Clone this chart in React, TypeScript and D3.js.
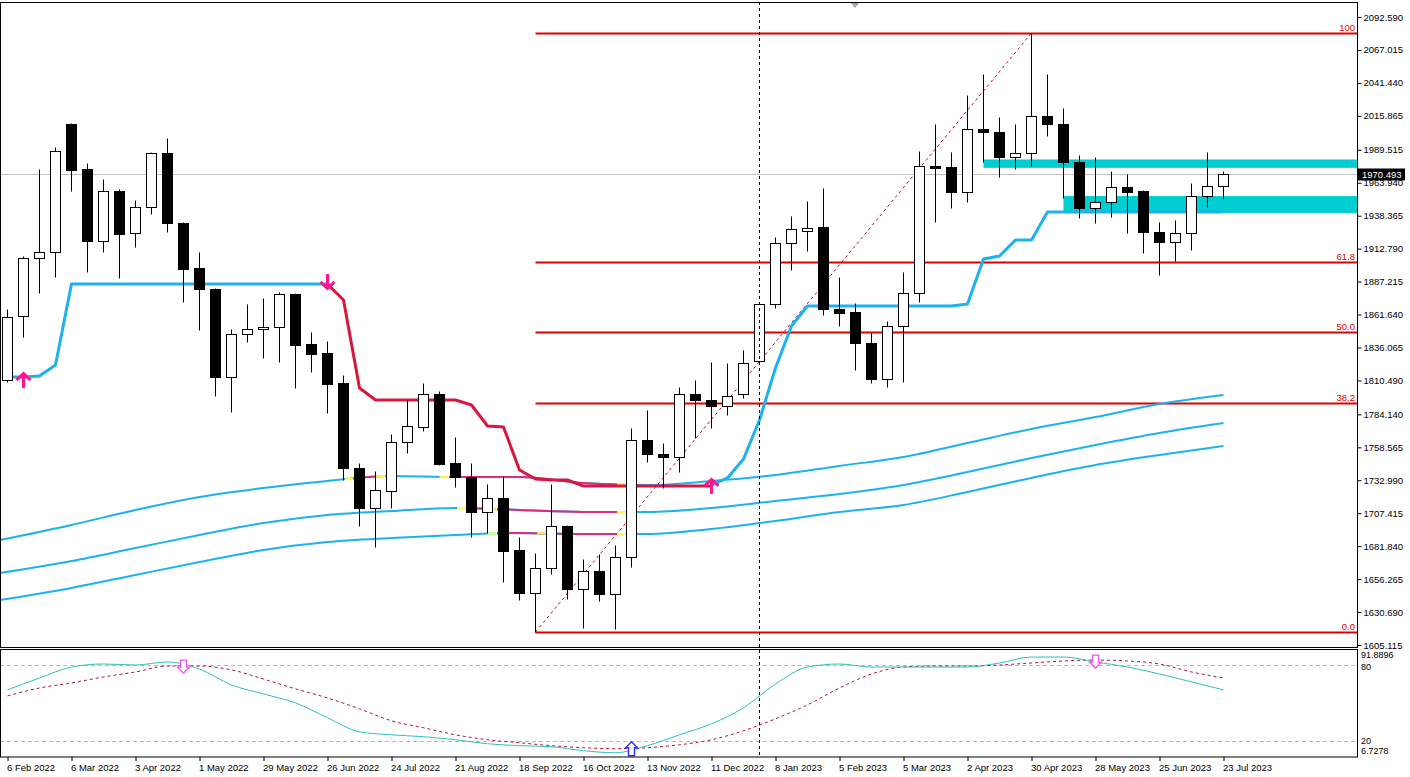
"use client";
import { useEffect, useRef } from "react";
import * as d3 from "d3";

// weekly gold bars, 6 Feb 2022 .. 23 Jul 2023 (index 0..76)
const opens = [
  1810.8, 1860.5, 1905.5, 1910.2, 2009.5, 1974.6, 1918.7, 1957.5, 1924.9, 1945.1,
  1987.0, 1932.7, 1897.8, 1881.5, 1813.2, 1846.5, 1850.4, 1852.0, 1877.6, 1838.8,
  1831.8, 1808.5, 1742.5, 1711.5, 1724.7, 1762.7, 1774.3, 1800.0, 1746.4, 1735.5,
  1708.4, 1719.2, 1678.9, 1645.5, 1664.9, 1697.5, 1648.6, 1662.6, 1644.7, 1673.4,
  1764.2, 1753.4, 1751.1, 1800.0, 1795.3, 1790.6, 1800.0, 1825.6, 1869.8, 1917.2,
  1926.5, 1929.6, 1865.9, 1863.6, 1839.5, 1811.6, 1852.7, 1878.4, 1976.9, 1976.2,
  1956.8, 2005.7, 2003.3, 1983.9, 1987.0, 2015.8, 2009.5, 1980.0, 1944.3, 1949.0,
  1960.6, 1957.5, 1925.7, 1917.9, 1924.9, 1953.7, 1961.4,
];
const highs = [
  1865.9, 1907.1, 1974.6, 1991.7, 2010.3, 1979.3, 1966.8, 1959.1, 1950.5, 1987.8,
  1998.7, 1933.5, 1910.2, 1882.2, 1850.4, 1869.8, 1874.5, 1879.1, 1878.0, 1848.1,
  1841.1, 1814.7, 1746.4, 1740.2, 1768.9, 1795.3, 1808.5, 1802.3, 1766.6, 1746.4,
  1730.1, 1736.3, 1689.0, 1676.5, 1730.1, 1698.3, 1671.9, 1675.8, 1682.7, 1773.6,
  1787.5, 1761.9, 1805.4, 1810.8, 1824.8, 1824.0, 1834.1, 1870.6, 1921.8, 1938.1,
  1949.8, 1959.9, 1890.8, 1870.6, 1847.3, 1856.6, 1894.7, 1988.6, 2009.5, 1987.8,
  2032.1, 2048.4, 2015.0, 2009.5, 2080.2, 2048.4, 2022.0, 1985.5, 1983.9, 1973.1,
  1970.7, 1958.3, 1933.5, 1935.0, 1963.7, 1987.8, 1973.1,
];
const lows = [
  1809.3, 1844.2, 1878.4, 1890.8, 1957.5, 1894.7, 1910.2, 1890.0, 1914.1, 1939.7,
  1925.7, 1871.4, 1849.6, 1798.4, 1786.0, 1840.3, 1827.9, 1824.8, 1804.6, 1817.0,
  1785.2, 1733.2, 1697.5, 1681.2, 1711.5, 1754.2, 1771.2, 1744.8, 1727.8, 1689.0,
  1692.1, 1654.0, 1640.0, 1615.2, 1660.2, 1640.8, 1618.3, 1639.3, 1617.5, 1665.7,
  1747.2, 1727.0, 1739.4, 1765.8, 1773.6, 1783.7, 1796.9, 1823.2, 1866.7, 1896.2,
  1911.0, 1861.3, 1852.7, 1818.6, 1808.5, 1805.4, 1809.3, 1871.4, 1933.5, 1944.3,
  1949.0, 1980.0, 1968.4, 1974.6, 1976.9, 2000.2, 1952.1, 1936.6, 1932.7, 1937.3,
  1924.9, 1909.4, 1892.3, 1903.2, 1911.7, 1945.1, 1951.3,
];
const closes = [
  1859.7, 1905.5, 1910.2, 1988.6, 1973.8, 1918.7, 1957.5, 1924.2, 1945.1, 1987.0,
  1932.7, 1897.0, 1881.5, 1813.2, 1846.5, 1850.4, 1852.0, 1877.6, 1838.0, 1831.0,
  1807.7, 1742.5, 1711.5, 1725.4, 1762.7, 1775.1, 1800.0, 1745.6, 1735.5, 1708.4,
  1719.2, 1678.1, 1645.5, 1664.9, 1697.5, 1648.6, 1662.6, 1644.7, 1673.4, 1764.2,
  1753.4, 1751.1, 1800.0, 1795.3, 1790.6, 1798.4, 1824.0, 1869.8, 1917.2, 1928.0,
  1928.8, 1865.9, 1862.8, 1839.5, 1811.6, 1852.7, 1878.4, 1976.9, 1975.4, 1956.8,
  2005.7, 2003.3, 1983.9, 1987.0, 2015.8, 2009.5, 1980.0, 1944.3, 1949.0, 1960.6,
  1956.8, 1925.7, 1917.9, 1924.9, 1953.7, 1961.4, 1970.493,
];

const dateLabels = [
  "6 Feb 2022", "6 Mar 2022", "3 Apr 2022", "1 May 2022", "29 May 2022",
  "26 Jun 2022", "24 Jul 2022", "21 Aug 2022", "18 Sep 2022", "16 Oct 2022",
  "13 Nov 2022", "11 Dec 2022", "8 Jan 2023", "5 Feb 2023", "5 Mar 2023",
  "2 Apr 2023", "30 Apr 2023", "28 May 2023", "25 Jun 2023", "23 Jul 2023",
];
const priceTicks = [
  2092.59, 2067.015, 2041.44, 2015.865, 1989.515, 1963.94, 1938.365, 1912.79,
  1887.215, 1861.64, 1836.065, 1810.49, 1784.14, 1758.565, 1732.99, 1707.415,
  1681.84, 1656.265, 1630.69, 1605.115,
];
const lastPrice = 1970.493;

// supertrend: up side (blue) and down side (crimson), null where inactive
const trendUp = [
  1813.2, 1813.2, 1813.9, 1822.5, 1885.3, 1885.3, 1885.3, 1885.3, 1885.3, 1885.3,
  1885.3, 1885.3, 1885.3, 1885.3, 1885.3, 1885.3, 1885.3, 1885.3, 1885.3, 1885.3,
  1885.3, null, null, null, null, null, null, null, null, null,
  null, null, null, null, null, null, null, null, null, null,
  null, null, null, null, 1729.3, 1734.8, 1749.5, 1779.8, 1820.1, 1852.7,
  1868.3, 1868.3, 1868.3, 1868.3, 1868.3, 1868.3, 1868.3, 1868.3, 1868.3, 1868.3,
  1869.8, 1904.7, 1907.1, 1919.5, 1919.5, 1941.2, 1941.2, 1941.2, 1941.2, 1941.2,
  1941.2, 1941.2, 1941.2, 1941.2, 1941.2, 1941.2, 1941.2,
];
const trendDown = [
  1813.2, null, null, null, null, null, null, null, null, null,
  null, null, null, null, null, null, null, null, null, null,
  1885.3, 1872.9, 1804.6, 1795.3, 1795.3, 1795.3, 1795.3, 1795.3, 1795.3, 1791.4,
  1775.1, 1774.3, 1741.0, 1734.0, 1733.2, 1733.2, 1728.5, 1728.5, 1728.5, 1728.5,
  1728.5, 1728.5, 1728.5, 1728.5, 1728.5, null, null, null, null, null,
  null, null, null, null, null, null, null, null, null, null,
  null, null, null, null, null, null, null, null, null, null,
  null, null, null, null, null, null, null,
];

// moving average band, read every 4 bars (first point at the left edge)
const maBars = [-0.47, 4, 8, 12, 16, 20, 24, 28, 32, 36, 40, 44, 48, 52, 56, 60, 64, 68, 72, 76];
const maUpper = [
  1686.6, 1698.3, 1709.9, 1720.0, 1727.0, 1732.4, 1736.3, 1735.5, 1735.5, 1730.9,
  1729.3, 1732.4, 1737.1, 1744.1, 1751.1, 1761.9, 1772.8, 1782.1, 1792.2, 1799.2,
];
const maMiddle = [
  1661.0, 1670.3, 1680.4, 1690.5, 1699.8, 1706.0, 1709.1, 1711.5, 1709.9, 1708.4,
  1708.4, 1711.5, 1716.9, 1722.3, 1729.3, 1739.4, 1750.3, 1760.4, 1769.7, 1777.4,
];
const maLower = [
  1640.0, 1649.4, 1659.5, 1669.5, 1678.9, 1685.1, 1688.2, 1690.5, 1692.1, 1691.3,
  1691.3, 1695.2, 1701.4, 1708.4, 1713.8, 1723.9, 1734.8, 1744.8, 1752.6, 1759.6,
];
// bar ranges where the band lines change colour (y = yellow, m = magenta)
const maUpperSpans: [number, number, string][] = [
  [21.1, 21.6, "y"], [21.6, 23.0, "m"], [23.0, 23.6, "y"],
  [27.0, 27.6, "y"], [27.6, 38.1, "m"], [38.1, 38.7, "y"],
];
const maMiddleSpans: [number, number, string][] = [
  [28.1, 28.7, "y"], [28.7, 38.1, "m"], [30.0, 30.6, "y"], [38.1, 38.7, "y"],
];
const maLowerSpans: [number, number, string][] = [
  [30.0, 30.6, "y"], [30.6, 38.1, "m"], [33.1, 33.7, "y"], [38.1, 38.7, "y"],
];

// supply / demand zones
const zoneStart = [61, 66];
const zoneTop = [1982.0, 1953.6];
const zoneBottom = [1975.5, 1940.5];

// fibonacci from bar 33 low to bar 64 high
const fibFrom = 33;
const fibTo = 64;
const fibLevels = [0, 38.2, 50, 61.8, 100];
const fibLabels = ["0.0", "38.2", "50.0", "61.8", "100"];

const trendArrowBars = [1, 20, 44];
const trendArrowPrices = [1817.0, 1880.7, 1734.8];
const trendArrowDirs = ["up", "down", "up"];

// stochastic sub window, read every 2 bars
const stochBars = d3.range(0, 77, 2);
const stochMain = [
  60.3, 69.7, 78.4, 80.8, 80.0, 82.4, 76.8, 64.2, 57.1, 50.0,
  38.2, 27.1, 24.7, 23.2, 20.8, 17.6, 16.1, 15.3, 12.1, 10.5,
  16.1, 24.7, 33.4, 46.1, 65.0, 78.4, 80.8, 78.4, 78.4, 78.4,
  78.4, 81.6, 86.3, 86.3, 82.4, 78.4, 72.9, 66.6, 60.3,
];
const stochSignal = [
  55.5, 61.8, 65.8, 70.5, 74.5, 79.2, 79.2, 76.1, 68.9, 61.1,
  53.9, 45.3, 35.8, 30.3, 24.7, 20.8, 18.4, 16.1, 14.5, 13.7,
  14.5, 16.8, 20.8, 27.9, 37.4, 48.4, 61.8, 72.9, 78.4, 79.2,
  79.2, 80.0, 81.6, 83.2, 83.9, 83.2, 80.8, 74.5, 69.7,
];
const stochLevels = [80, 20];
const stochAxis = [91.8896, 80, 20, 6.7278];
const stochArrowBars = [11, 39, 68];
const stochArrowValues = [83.9, 19.2, 87.9];
const stochArrowDirs = ["down", "up", "down"];

const W = 1410;
const H = 777;
const PLOT_R = 1357;
const MAIN_TOP = 2;
const MAIN_BOT = 647;
const SUB_TOP = 650;
const SUB_BOT = 757;
const FONT = "'Liberation Sans', Arial, sans-serif";

const BLUE = "#1cb2ee";
const CRIMSON = "#d8173f";
const PINK = "#ff1493";
const FIB_RED = "#e00000";
const spanColor: Record<string, string> = { y: "#ffff3a", m: "#e4297f" };

const GoldChart = () => {
  const svgRef = useRef<SVGSVGElement>(null);

  useEffect(() => {
    if (!svgRef.current) return;
    const svg = d3.select(svgRef.current);
    svg.selectAll("*").remove();

    const x = d3.scaleLinear().domain([0, 76]).range([7.5, 1223.5]);
    const y = d3.scaleLinear().domain([1605.115, 2092.59]).range([645, 17]);
    const ys = d3.scaleLinear().domain([6.7278, 91.8896]).range([757.5, 650]);
    const px = (v: number) => Math.round(y(v)) + 0.5;

    svg.append("rect").attr("width", W).attr("height", H).attr("fill", "#fff");

    const defs = svg.append("defs");
    defs.append("clipPath").attr("id", "mainClip").append("rect")
      .attr("x", 0).attr("y", MAIN_TOP).attr("width", PLOT_R).attr("height", MAIN_BOT - MAIN_TOP);
    defs.append("clipPath").attr("id", "subClip").append("rect")
      .attr("x", 0).attr("y", SUB_TOP).attr("width", PLOT_R).attr("height", SUB_BOT - SUB_TOP);

    const main = svg.append("g").attr("clip-path", "url(#mainClip)");

    // fibonacci retracement
    const fibLow = lows[fibFrom];
    const fibHigh = highs[fibTo];
    fibLevels.forEach((lv, i) => {
      const yy = px(fibLow + ((fibHigh - fibLow) * lv) / 100);
      main.append("line")
        .attr("x1", x(fibFrom)).attr("x2", PLOT_R)
        .attr("y1", yy).attr("y2", yy)
        .attr("stroke", FIB_RED).attr("stroke-width", 2);
      main.append("text")
        .attr("x", PLOT_R - 2).attr("y", yy - 3)
        .attr("text-anchor", "end")
        .attr("font-family", FONT).attr("font-size", 9.5)
        .attr("fill", FIB_RED)
        .text(fibLabels[i]);
    });
    main.append("line")
      .attr("x1", x(fibFrom)).attr("y1", y(fibLow))
      .attr("x2", x(fibTo)).attr("y2", y(fibHigh))
      .attr("stroke", "#c0102a").attr("stroke-width", 1)
      .attr("stroke-dasharray", "3,3");

    // zones
    zoneStart.forEach((b, i) => {
      main.append("rect")
        .attr("x", x(b)).attr("width", PLOT_R - x(b))
        .attr("y", y(zoneTop[i])).attr("height", y(zoneBottom[i]) - y(zoneTop[i]))
        .attr("fill", "#00cdd2");
    });

    // current price line
    main.append("line")
      .attr("x1", 0).attr("x2", PLOT_R)
      .attr("y1", px(lastPrice)).attr("y2", px(lastPrice))
      .attr("stroke", "#c0c0c0").attr("stroke-width", 1);

    // band lines
    const maLine = d3.line<number>()
      .x((_, i) => x(maBars[i]))
      .y((d) => y(d))
      .curve(d3.curveMonotoneX);
    const bands = [maUpper, maMiddle, maLower];
    const bandSpans = [maUpperSpans, maMiddleSpans, maLowerSpans];
    bands.forEach((vals, k) => {
      const d = maLine(vals);
      main.append("path").attr("d", d).attr("fill", "none")
        .attr("stroke", BLUE).attr("stroke-width", 2);
      bandSpans[k].forEach(([a, b, c], j) => {
        const id = `band${k}_${j}`;
        defs.append("clipPath").attr("id", id).append("rect")
          .attr("x", x(a)).attr("width", x(b) - x(a))
          .attr("y", MAIN_TOP).attr("height", MAIN_BOT - MAIN_TOP);
        main.append("path").attr("d", d).attr("fill", "none")
          .attr("stroke", spanColor[c]).attr("stroke-width", 2)
          .attr("clip-path", `url(#${id})`);
      });
    });

    // supertrend
    const trendLine = d3.line<number | null>()
      .defined((d) => d != null)
      .x((_, i) => x(i))
      .y((d) => y(d as number));
    main.append("path").attr("d", trendLine(trendDown)).attr("fill", "none")
      .attr("stroke", CRIMSON).attr("stroke-width", 3).attr("stroke-linejoin", "round");
    main.append("path").attr("d", trendLine(trendUp)).attr("fill", "none")
      .attr("stroke", BLUE).attr("stroke-width", 3).attr("stroke-linejoin", "round");

    // candles
    const candles = main.append("g");
    opens.forEach((o, i) => {
      const cx = x(i);
      const c = closes[i];
      const bull = c >= o;
      candles.append("line")
        .attr("x1", cx).attr("x2", cx)
        .attr("y1", px(highs[i])).attr("y2", px(lows[i]))
        .attr("stroke", "#000").attr("stroke-width", 1);
      const top = Math.min(px(o), px(c));
      const h = Math.max(Math.abs(px(o) - px(c)), 1);
      candles.append("rect")
        .attr("x", cx - 5).attr("width", 10)
        .attr("y", top).attr("height", h)
        .attr("fill", bull ? "#fff" : "#000")
        .attr("stroke", "#000").attr("stroke-width", 1);
    });

    // supertrend arrows
    trendArrowBars.forEach((b, i) => {
      const ax = x(b);
      const ay = y(trendArrowPrices[i]);
      const s = trendArrowDirs[i] === "up" ? 1 : -1;
      main.append("path")
        .attr("d", `M${ax},${ay + s * 16}L${ax},${ay + s * 1}M${ax - 7},${ay + s * 8}L${ax},${ay + s * 1.5}L${ax + 7},${ay + s * 8}`)
        .attr("fill", "none").attr("stroke", PINK).attr("stroke-width", 3);
    });

    // chart shift marker
    svg.append("path").attr("d", "M850,2L860,2L855,8Z").attr("fill", "#a8a8a8");

    // stochastic sub window
    const sub = svg.append("g").attr("clip-path", "url(#subClip)");
    stochLevels.forEach((lv) => {
      sub.append("line")
        .attr("x1", 0).attr("x2", PLOT_R)
        .attr("y1", Math.round(ys(lv)) + 0.5).attr("y2", Math.round(ys(lv)) + 0.5)
        .attr("stroke", "#b8b8b8").attr("stroke-dasharray", "4,3");
    });
    const stochLine = d3.line<number>()
      .x((_, i) => x(stochBars[i]))
      .y((d) => ys(d))
      .curve(d3.curveMonotoneX);
    sub.append("path").attr("d", stochLine(stochSignal)).attr("fill", "none")
      .attr("stroke", "#b8102c").attr("stroke-width", 1).attr("stroke-dasharray", "3,3");
    sub.append("path").attr("d", stochLine(stochMain)).attr("fill", "none")
      .attr("stroke", "#2ebfc4").attr("stroke-width", 1);
    stochArrowBars.forEach((b, i) => {
      const ax = x(b);
      const down = stochArrowDirs[i] === "down";
      const t = ys(stochArrowValues[i]);
      const pts = down
        ? [[ax - 3, t], [ax + 3, t], [ax + 3, t + 7], [ax + 6, t + 7], [ax, t + 13], [ax - 6, t + 7], [ax - 3, t + 7]]
        : [[ax, t], [ax + 6, t + 6], [ax + 3, t + 6], [ax + 3, t + 14], [ax - 3, t + 14], [ax - 3, t + 6], [ax - 6, t + 6]];
      sub.append("polygon")
        .attr("points", pts.map((p) => p.join(",")).join(" "))
        .attr("fill", "#fff")
        .attr("stroke", down ? "#ee55ee" : "#2a2aff").attr("stroke-width", 1.3);
    });

    // vertical separator
    svg.append("line")
      .attr("x1", x(47)).attr("x2", x(47))
      .attr("y1", MAIN_TOP).attr("y2", SUB_BOT)
      .attr("stroke", "#000").attr("stroke-dasharray", "3,3");

    // frames
    svg.append("rect").attr("x", 0.5).attr("y", MAIN_TOP + 0.5)
      .attr("width", PLOT_R).attr("height", MAIN_BOT - MAIN_TOP)
      .attr("fill", "none").attr("stroke", "#000");
    svg.append("rect").attr("x", 0.5).attr("y", SUB_TOP - 0.5)
      .attr("width", PLOT_R).attr("height", SUB_BOT - SUB_TOP + 0.5)
      .attr("fill", "none").attr("stroke", "#000");

    // price axis
    const priceAxis = svg.append("g")
      .attr("transform", `translate(${PLOT_R + 0.5},0)`)
      .call(d3.axisRight(y).tickValues(priceTicks).tickSize(4).tickPadding(2).tickFormat(d3.format(".3f")));
    priceAxis.select(".domain").remove();
    priceAxis.selectAll("text").attr("font-family", FONT).attr("font-size", 9.5).attr("fill", "#000");
    priceAxis.selectAll("line").attr("stroke", "#000");

    // last price tag
    const ly = px(lastPrice);
    svg.append("rect").attr("x", PLOT_R + 1).attr("y", ly - 6)
      .attr("width", 47).attr("height", 12).attr("fill", "#000");
    svg.append("text").attr("x", PLOT_R + 5).attr("y", ly + 3.5)
      .attr("font-family", FONT).attr("font-size", 9.5).attr("fill", "#fff")
      .text(lastPrice.toFixed(3));

    // stochastic axis labels, min/max pinned inside the window
    stochAxis.forEach((v) => {
      const yy = Math.max(655, Math.min(751, ys(v) + (v === 80 ? 1.5 : 0)));
      svg.append("text").attr("x", PLOT_R + 4).attr("y", yy + 3.3)
        .attr("font-family", FONT).attr("font-size", 9).attr("fill", "#000")
        .text(String(v));
    });

    // time axis
    const timeAxis = svg.append("g")
      .attr("transform", `translate(0,${SUB_BOT})`)
      .call(
        d3.axisBottom(x)
          .tickValues(d3.range(0, 77, 4))
          .tickSize(4)
          .tickPadding(3)
          .tickFormat((_, i) => dateLabels[i]),
      );
    timeAxis.select(".domain").remove();
    timeAxis.selectAll("line").attr("stroke", "#000");
    timeAxis.selectAll("text")
      .attr("text-anchor", "start").attr("x", -1)
      .attr("font-family", FONT).attr("font-size", 9.5).attr("fill", "#000");
  }, []);

  return (
    <svg
      ref={svgRef}
      width={W}
      height={H}
      style={{ position: "absolute", left: 0, top: 0, display: "block" }}
    ></svg>
  );
};

export default GoldChart;
